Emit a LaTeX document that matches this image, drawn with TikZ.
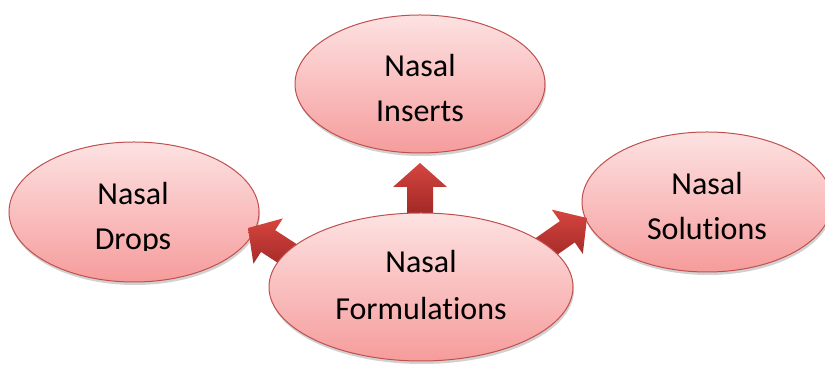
\documentclass[tikz,border=0pt]{standalone}
\usepackage{fontspec}
\setmainfont[Ligatures={NoCommon}]{Carlito}
\usetikzlibrary{shapes.geometric,shadows}
\definecolor{ellborder}{HTML}{C0504D}
\definecolor{elltop}{HTML}{FDE2E2}
\definecolor{ellbot}{HTML}{F69C9C}
\definecolor{arrtop}{HTML}{D6453F}
\definecolor{arrbot}{HTML}{A02826}
\tikzset{
  bubble/.style={ellipse, draw=ellborder, line width=1pt, top color=elltop, bottom color=ellbot,
    inner sep=0pt, drop shadow={shadow xshift=1pt, shadow yshift=-3pt, opacity=0.3, fill=black!60}},
  label text/.style={anchor=base, inner sep=0pt, font=\fontsize{32}{38}\selectfont},
  fatarrow/.style={top color=arrtop, bottom color=arrbot, draw=none}
}
\newcommand{\blockarrow}[3]{%
  \begin{scope}[shift={(#1)}, rotate=#2]
    \shade[fatarrow] (0,0) -- (-24,27) -- (-24,13) -- (-#3,13) -- (-#3,-13) -- (-24,-13) -- (-24,-27) -- cycle;
  \end{scope}}
\begin{document}
\begin{tikzpicture}[x=1pt,y=1pt]
  \useasboundingbox (0,0) rectangle (825,366);
  % outer bubbles
  \node[bubble, minimum width=250pt, minimum height=140pt] (drops) at (134,154) {};
  \node[bubble, minimum width=250pt, minimum height=140pt] (solutions) at (707,164) {};
  \node[bubble, minimum width=250pt, minimum height=138pt] (inserts) at (420,282) {};
  % block arrows
  \coordinate (tipI) at (420,203);
  \coordinate (tipD) at (248,138);
  \coordinate (tipS) at (587,148);
  \blockarrow{tipI}{90}{52}
  \blockarrow{tipD}{147}{56}
  \blockarrow{tipS}{35}{56}
  % centre bubble
  \node[bubble, minimum width=304pt, minimum height=148pt] (formulations) at (421,79) {};
  % texts
  \node[label text] (insA) at (420,289) {Nasal};
  \node[label text] (insB) at (420,244) {Inserts};
  \node[label text] (solA) at (707,171) {Nasal};
  \node[label text] (solB) at (707,126) {Solutions};
  \node[label text] (forA) at (421,93) {Nasal};
  \node[label text] (forB) at (421,46) {Formulations};
  \node[label text] (droA) at (133,161) {Nasal};
  \begin{scope}
    \clip (0,115) rectangle (260,150);
    \node[label text] (droB) at (133,116) {Drops};
  \end{scope}
\end{tikzpicture}
\end{document}
